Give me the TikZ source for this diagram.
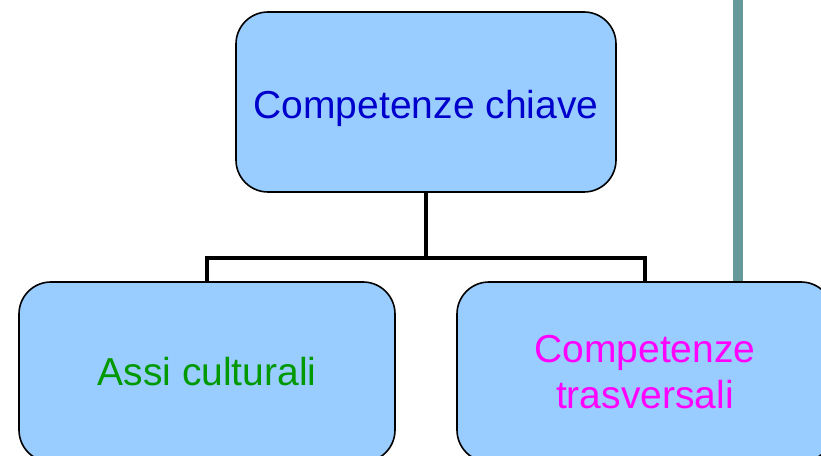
\documentclass[tikz,border=0pt]{standalone}
\usepackage{fontspec}
\setmainfont{Liberation Sans}
\usepackage{tikz}

\definecolor{boxfill}{HTML}{99CCFF}
\definecolor{keyblue}{HTML}{0000CC}
\definecolor{axisgreen}{HTML}{009900}
\definecolor{transmag}{HTML}{FF00FF}
\definecolor{divteal}{HTML}{669999}

\tikzset{
  compbox/.style={draw=black, line width=1.6pt, fill=boxfill, rounded corners=32pt,
    minimum width=376pt, minimum height=180pt, align=center,
    font=\fontsize{39}{46}\selectfont},
  branch/.style={draw=black, line width=4.5pt},
  divider/.style={draw=divteal, line width=10pt}
}

\begin{document}
\begin{tikzpicture}[x=1pt,y=1pt]
  \useasboundingbox (0,0) rectangle (821,455);
  \clip (0,0) rectangle (821,455);
  \draw [divider] (738,455) -- (738,172);
  \node [compbox, minimum width=380pt, text=keyblue, text height=34pt, text depth=0pt] at (426,353) (key) {Competenze chiave};
  \node [compbox, text=axisgreen] at (207,83) (assi) {Assi culturali};
  \node [compbox, text=transmag] at (645,83) (trasv) {Competenze\\trasversali};
  \coordinate (fork) at (426,197);
  \draw [branch] (key.south) -- (fork);
  \draw [branch] (fork) -| (assi.north);
  \draw [branch] (fork) -| (trasv.north);
\end{tikzpicture}
\end{document}
